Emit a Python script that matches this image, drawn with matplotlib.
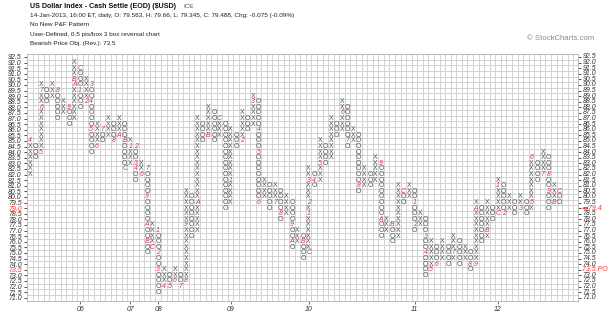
import numpy as np
import matplotlib
matplotlib.use("Agg")
import matplotlib.pyplot as plt
from matplotlib.transforms import blended_transform_factory

# P&F columns (0.5 pts/box, 3 box reversal), left to right; first column is X
col_low = [82.0, 83.5, 84.0, 88.5, 89.0, 87.0, 87.5, 86.5, 87.0, 88.0,
           88.5, 84.0, 84.5, 85.0, 85.5, 85.0, 85.5, 82.5, 83.0, 81.5,
           82.0, 75.0, 75.5, 71.5, 72.0, 72.0, 72.5, 72.0, 72.5, 76.5,
           77.0, 85.0, 85.5, 85.0, 85.5, 79.0, 79.5, 84.5, 85.0, 86.0,
           86.5, 79.5, 80.0, 79.0, 79.5, 78.0, 78.5, 75.5, 76.0, 74.5,
           75.0, 81.0, 81.5, 83.0, 83.5, 85.5, 86.0, 84.5, 85.0, 80.5,
           81.0, 81.0, 81.5, 76.5, 77.0, 76.0, 76.5, 79.5, 80.0, 77.0,
           77.5, 73.0, 73.5, 74.0, 74.5, 74.0, 74.5, 74.0, 74.5, 73.5,
           74.0, 76.0, 76.5, 78.0, 78.5, 78.5, 79.0, 78.5, 79.0, 78.5,
           79.0, 81.5, 82.0, 79.0, 79.5, 79.5]
col_high = [85.0, 84.5, 90.0, 89.5, 90.0, 89.5, 88.5, 88.0, 92.0, 91.5,
            90.5, 90.0, 86.5, 86.0, 87.0, 86.5, 87.0, 86.5, 85.0, 84.5,
            83.0, 82.5, 77.5, 77.0, 73.5, 73.0, 73.5, 73.0, 80.5, 80.0,
            87.0, 86.5, 88.0, 87.5, 87.0, 86.5, 86.0, 85.5, 87.5, 87.0,
            89.0, 88.5, 81.5, 81.0, 81.0, 80.5, 80.0, 79.5, 77.0, 76.5,
            82.5, 82.0, 85.0, 84.5, 87.0, 86.5, 88.5, 88.0, 86.0, 85.5,
            82.5, 82.0, 83.5, 83.0, 78.0, 77.5, 81.0, 80.5, 81.0, 80.5,
            78.5, 78.0, 76.0, 75.5, 76.0, 75.5, 76.5, 76.0, 75.5, 75.0,
            79.5, 79.0, 79.5, 79.0, 81.5, 81.0, 80.0, 79.5, 80.0, 79.5,
            83.5, 83.0, 84.0, 83.5, 81.0, 80.5]

# month markers that replace a box: column, price, month code
mark_col = [0, 2, 2, 2, 5, 7, 8, 8, 9, 9, 10, 11, 11, 11, 12, 13, 15, 16,
            17, 17, 18, 19, 19, 19, 20, 21, 21, 21, 21, 22, 23, 23, 23, 24,
            25, 26, 27, 28, 28, 30, 32, 34, 36, 38, 40, 41, 41, 41, 44, 45,
            47, 47, 49, 50, 50, 50, 50, 51, 52, 56, 57, 59, 63, 63, 65, 67,
            69, 69, 71, 71, 72, 73, 76, 79, 80, 80, 82, 84, 84, 85, 88, 90,
            90, 92, 93, 93, 94, 95]
mark_price = [85.0, 84.0, 88.0, 89.5, 89.5, 88.0, 90.0, 90.5, 91.5, 89.5,
              88.5, 90.0, 88.5, 86.0, 84.5, 86.0, 85.0, 85.5, 85.0, 82.5,
              84.5, 84.5, 83.0, 82.5, 82.0, 82.5, 80.0, 77.5, 76.0, 75.5,
              77.0, 75.0, 73.5, 72.0, 72.0, 72.5, 72.0, 72.5, 77.5, 79.5,
              85.5, 87.0, 81.5, 85.0, 88.5, 86.0, 84.0, 79.5, 79.5, 78.5,
              77.5, 76.0, 76.0, 75.0, 78.5, 79.5, 81.5, 81.5, 83.0, 87.5,
              85.0, 81.0, 83.0, 78.0, 77.5, 80.5, 79.5, 77.5, 76.5, 75.0,
              73.5, 74.0, 75.0, 74.0, 74.0, 79.0, 77.0, 78.5, 81.0, 78.5,
              79.0, 79.5, 83.5, 82.0, 82.0, 80.5, 79.5, 80.5]
mark_text = ["4", "5", "6", "7", "8", "9", "A", "B", "C", "1", "2", "3", "4",
             "5", "6", "7", "8", "A", "B", "C", "1", "2", "3", "4", "6", "7",
             "9", "A", "B", "C", "1", "2", "3", "4", "5", "6", "7", "8", "9",
             "A", "B", "C", "1", "2", "3", "4", "5", "6", "7", "8", "9", "A",
             "B", "C", "1", "2", "3", "4", "5", "6", "7", "8", "9", "A", "B",
             "C", "1", "2", "3", "4", "5", "6", "7", "8", "9", "A", "B", "C",
             "1", "2", "3", "5", "6", "7", "8", "9", "B", "C"]

year_text = ["06", "07", "08", "09", "10", "11", "12"]

last_price_row = 79.0
last_price_text = "\u25c2\u25c279.4"
target_row = 73.5
target_text = "73.5 PO"

GRAY = "#555555"
MONTH_RED = "#d8306a"
PRICE_RED = "#ff3030"

plt.rcParams["font.family"] = ["Liberation Sans", "DejaVu Sans"]

fig = plt.figure(figsize=(6.15, 3.14), dpi=100)
ax = fig.add_axes([0.0442, 0.0427, 0.8953, 0.7847])
ax.set_xlim(-0.5, 98.3)
ax.set_ylim(70.75, 92.75)

# boxes
marks = {(c, p): t for c, p, t in zip(mark_col, mark_price, mark_text)}
for i, (lo, hi) in enumerate(zip(col_low, col_high)):
    kind = "X" if i % 2 == 0 else "O"
    for p in np.arange(lo, hi + 0.01, 0.5):
        key = (i, round(p * 2) / 2)
        if key in marks:
            ax.text(i, p, marks[key], ha="center", va="center", fontsize=5,
                    color=MONTH_RED, style="italic")
        else:
            ax.text(i, p, kind, ha="center", va="center", fontsize=5,
                    color=GRAY)

# grid of boxes
ax.set_xticks(np.arange(-0.5, 98.3, 1), minor=True)
ax.set_yticks(np.arange(70.75, 92.76, 0.5), minor=True)
ax.grid(which="minor", color="#d2d2d2", lw=0.7)
ax.tick_params(which="minor", length=0)
ax.set_axisbelow(True)

# price scale: left from the axis, right drawn as text
rows = np.arange(71.0, 92.51, 0.5)
ax.set_yticks(rows, labels=[f"{r:.1f}" for r in rows])
ax.tick_params(axis="y", which="major", left=True, right=True,
               labelleft=True, labelright=False, length=2.5, width=0.6,
               pad=1.5, labelsize=5, color="#333333", labelcolor="#333333")
for lbl, r in zip(ax.get_yticklabels(), rows):
    lbl.set_style("italic")
    if r in (last_price_row, target_row):
        lbl.set_color(PRICE_RED)

right = blended_transform_factory(ax.transAxes, ax.transData)
for r in rows:
    txt, col = f"{r:.1f}", "#333333"
    if r == last_price_row:
        txt, col = last_price_text, PRICE_RED
    elif r == target_row:
        txt, col = target_text, PRICE_RED
    ax.text(1.0085, r, txt, transform=right, ha="left", va="center",
            fontsize=5, style="italic", color=col, clip_on=False)

# year labels under the column holding each January marker
jan_cols = [c for c, t in zip(mark_col, mark_text) if t == "1"]
ax.set_xticks(jan_cols, labels=year_text)
ax.tick_params(axis="x", which="major", length=2, width=0.6, pad=2,
               labelsize=5, color="#555555", labelcolor="#333333")
for lbl in ax.get_xticklabels():
    lbl.set_style("italic")

for s in ax.spines.values():
    s.set_color("#bbbbbb")
    s.set_linewidth(0.7)

# header
fig.text(30 / 615, 1 - 7 / 314, "US Dollar Index - Cash Settle (EOD) (\\$USD)",
         fontsize=5.1, weight="bold", va="center", color="#111111")
fig.text(183 / 615, 1 - 7 / 314, "ICE", fontsize=4.6, va="center",
         color="#555555")
fig.text(30 / 615, 1 - 16 / 314,
         "14-Jan-2013, 16:00 ET, daily, O: 79.563, H: 79.66, L: 79.345, "
         "C: 79.488, Chg: -0.075 (-0.09%)",
         fontsize=4.6, va="center", color="#222222")
fig.text(30 / 615, 1 - 24.5 / 314, "No New P&F Pattern", fontsize=4.6,
         va="center", color="#222222")
fig.text(30 / 615, 1 - 34.5 / 314,
         "User-Defined, 0.5 pts/box 3 box reversal chart", fontsize=4.6,
         va="center", color="#222222")
fig.text(30 / 615, 1 - 43.5 / 314, "Bearish Price Obj. (Rev.): 73.5",
         fontsize=4.6, va="center", color="#222222")
fig.text(594 / 615, 1 - 39 / 314, "\u00a9 StockCharts.com", fontsize=5.6,
         ha="right", va="center", color="#8a8a8a")

fig.savefig("out.png", dpi=100)
